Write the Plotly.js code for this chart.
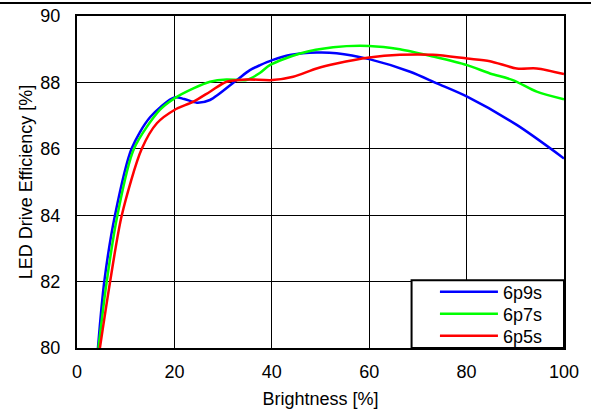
<!DOCTYPE html>
<html>
<head>
<meta charset="utf-8">
<script src="https://cdn.plot.ly/plotly-3.0.1.min.js"></script>
<style>html,body{margin:0;padding:0;background:#fff;}#chart{width:591px;height:414px;}</style>
</head>
<body>
<div id="chart"></div>
<script>
var blueX = [4.3, 5.6, 7.8, 11.2, 15, 20, 22, 24.6, 27.3, 32.8, 35.5, 37.6, 40.1, 44, 49.2, 53.3, 60, 68.4, 73.9, 80.1, 90.3, 100];
var blueY = [80, 82, 84, 86, 86.95, 87.55, 87.5, 87.39, 87.47, 88.07, 88.37, 88.52, 88.67, 88.83, 88.9, 88.88, 88.7, 88.32, 87.97, 87.57, 86.72, 85.71];
var greenX = [4.4, 6.1, 8.3, 11.7, 17, 20, 23.9, 27.3, 30.7, 34.8, 37.6, 39.6, 45.8, 52.6, 60, 66.3, 73.1, 80.1, 84.8, 89.5, 94.4, 100];
var greenY = [80, 82, 84, 86, 87.17, 87.52, 87.82, 88.02, 88.09, 88.07, 88.29, 88.52, 88.87, 89.06, 89.1, 89.0, 88.78, 88.52, 88.27, 88.07, 87.72, 87.49];
var redX = [4.7, 6.8, 9.2, 13.3, 16.4, 20, 23.9, 27.3, 30.7, 34.8, 40.1, 44.4, 49.2, 53.3, 60, 66.3, 73.1, 80.1, 84.8, 90.3, 94.4, 100];
var redY = [80, 82, 84, 86, 86.77, 87.17, 87.42, 87.72, 88.02, 88.09, 88.07, 88.17, 88.42, 88.57, 88.75, 88.83, 88.83, 88.72, 88.64, 88.42, 88.42, 88.25];
var seriesNames = ['6p9s', '6p7s', '6p5s'];
var xTicks = [0, 20, 40, 60, 80, 100];
var yTicks = [80, 82, 84, 86, 88, 90];

var fam = 'Liberation Sans, Arial, sans-serif';
var f18 = {family: fam, size: 18, color: '#000'};
function tr(x, y, name, color, lg) {
  return {x: x, y: y, name: name, type: 'scatter', mode: 'lines', legend: lg,
    line: {color: color, width: 2.5, shape: 'spline', smoothing: 0.8}};
}
var data = [
  tr(blueX, blueY, seriesNames[0], '#0000ff', 'legend'),
  tr(greenX, greenY, seriesNames[1], '#00ff00', 'legend2'),
  tr(redX, redY, seriesNames[2], '#ff0000', 'legend3')
];
function lg(y) {
  return {x: 0.735, y: y, xanchor: 'left', yanchor: 'middle',
    bgcolor: 'rgba(0,0,0,0)', borderwidth: 0, font: f18, itemwidth: 58};
}
var layout = {
  width: 591, height: 414,
  margin: {l: 77, r: 27, t: 16, b: 66},
  paper_bgcolor: '#fff', plot_bgcolor: '#fff',
  font: f18,
  showlegend: true,
  legend: lg(0.1687),
  legend2: lg(0.1024),
  legend3: lg(0.0361),
  xaxis: {range: [0, 100], tickvals: xTicks, ticktext: xTicks.map(String),
    showgrid: true, gridcolor: '#000', gridwidth: 1,
    showline: true, linecolor: '#000', linewidth: 2, mirror: true,
    zeroline: false, ticks: '', ticklabelstandoff: 6,
    tickfont: f18,
    title: {text: 'Brightness [%]', font: f18, standoff: 12}},
  yaxis: {range: [80, 90], tickvals: yTicks, ticktext: yTicks.map(String),
    showgrid: true, gridcolor: '#000', gridwidth: 1,
    showline: true, linecolor: '#000', linewidth: 2, mirror: true,
    zeroline: false, ticks: '', ticklabelstandoff: 11,
    tickfont: f18,
    title: {text: 'LED Drive Efficiency [%]', font: f18, standoff: 3}},
  shapes: [
    {type: 'line', xref: 'paper', yref: 'paper',
      x0: -77/487, x1: 514/487, y0: 345/332, y1: 345/332,
      line: {color: '#000', width: 2}},
    {type: 'rect', xref: 'paper', yref: 'paper', layer: 'above',
      x0: 0.687, x1: 1, y0: 0, y1: 0.204,
      fillcolor: '#fff', line: {color: '#000', width: 2}}
  ]
};
Plotly.newPlot('chart', data, layout, {staticPlot: true, displayModeBar: false});
</script>
</body>
</html>
